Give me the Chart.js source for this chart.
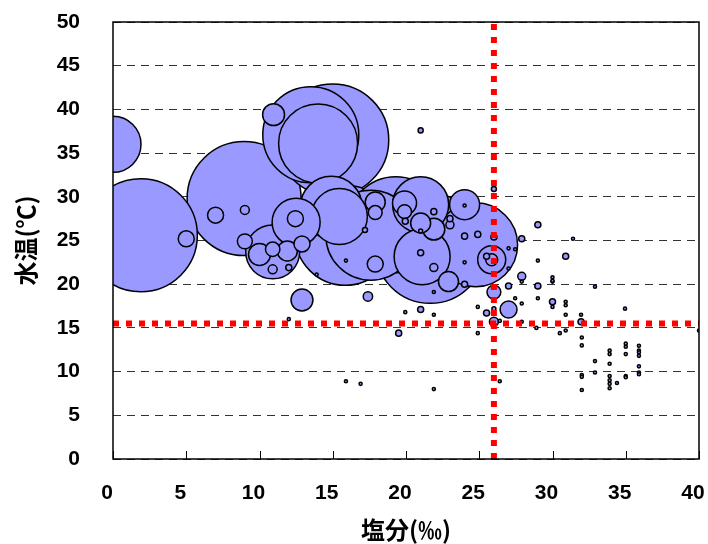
<!DOCTYPE html>
<html>
<head>
<meta charset="utf-8">
<script src="https://cdn.jsdelivr.net/npm/chart.js@4.4.0/dist/chart.umd.min.js"></script>
<style>
  body { margin: 0; background: #fff; }
</style>
</head>
<body>
<canvas id="chart" width="708" height="544"></canvas>
<script>
  // salinity (‰), water temperature (℃) and bubble value for each sample
  const salinity = [
    0, 1.9, 8.95, 13.5, 15.0, 14.0, 15.85, 17.6, 19.3, 21.65,
    24.75, 14.9, 21.0, 21.1, 15.45, 10.9, 12.5, 24.0, 25.85, 10.96,
    5.0, 7.0, 9.0, 12.45, 9.0, 10.0, 10.9, 11.9, 12.9, 10.9,
    12.0, 12.9, 17.4, 12.0, 13.9, 15.9, 17.9, 17.2, 17.9, 17.9,
    21.0, 19.9, 19.9, 19.95, 21.0, 21.9, 21.9, 23.0, 23.0, 21.0,
    21.0, 21.9, 22.9, 24.0, 21.9, 24.0, 24.0, 24.9, 24.0, 25.85,
    25.5, 26.0, 27.0, 27.45, 27.0, 26.0, 27.0, 27.0, 26.0, 24.9,
    21.0, 19.95, 21.9, 26.0, 25.5, 26.0, 26.4, 27.45, 27.9, 27.9,
    29.0, 28.9, 30.5, 30.9, 30.9, 31.95, 31.95, 32.0, 32.0, 32.0,
    32.0, 32.0, 26.4, 21.9, 19.5, 24.9, 30.0, 29.0, 31.4, 27.9,
    29.0, 30.9, 27.9, 27.9, 29.0, 30.0, 30.0, 30.0, 30.9, 30.9,
    32.9, 30.0, 34.95, 40.0, 32.9, 32.9, 33.9, 33.9, 33.9, 33.9,
    33.9, 33.9, 33.9, 34.4, 35.0, 35.0, 35.0, 35.0, 35.0, 35.9,
    35.9, 35.9, 35.9, 35.9, 35.9, 35.9, 15.9, 16.9
  ];
  const waterTemp = [
    36.0, 25.6, 29.8, 37.1, 36.5, 36.1, 25.6, 25.6, 26.8, 24.1,
    24.5, 28.8, 29.1, 23.15, 27.75, 23.7, 27.1, 29.1, 22.8, 39.4,
    25.2, 27.9, 28.5, 27.5, 24.9, 23.4, 24.0, 23.8, 24.6, 21.7,
    21.9, 18.2, 18.6, 16.0, 21.1, 22.7, 22.3, 26.2, 29.4, 28.2,
    37.6, 29.3, 28.3, 27.2, 27.0, 26.3, 28.3, 26.8, 27.5, 26.1,
    23.6, 21.9, 20.3, 20.0, 19.1, 22.5, 25.5, 25.7, 29.0, 22.8,
    23.2, 25.4, 24.1, 24.0, 21.8, 19.1, 19.8, 17.1, 30.9, 17.4,
    17.1, 16.8, 16.5, 17.2, 16.7, 15.7, 15.8, 18.4, 17.8, 15.7,
    18.4, 15.0, 14.4, 16.5, 14.7, 16.5, 15.7, 13.9, 13.0, 9.6,
    9.4, 7.9, 8.9, 8.0, 14.4, 14.4, 20.3, 26.8, 25.2, 25.2,
    22.7, 23.2, 20.9, 20.3, 19.8, 20.8, 20.4, 18.0, 18.0, 17.6,
    19.7, 17.4, 17.2, 14.7, 11.2, 9.9, 12.4, 12.0, 10.9, 9.5,
    9.0, 8.6, 8.1, 8.7, 13.2, 12.85, 12.0, 9.5, 9.35, 12.96,
    12.4, 12.2, 11.8, 10.6, 9.9, 9.7, 8.9, 8.6
  ];
  const bubbleValue = [
    196, 798, 812, 576, 784, 390, 625, 506, 576, 756,
    441, 240, 196, 196, 196, 182, 144, 56, 49, 30,
    16, 16, 5, 16, 14, 30, 13, 25, 16, 5,
    2.3, 30, 5.5, 0.6, 0.6, 0.6, 16, 1.6, 25, 12,
    1.6, 36, 12, 2.3, 25, 30, 2.3, 4, 2.3, 1,
    2.3, 4, 25, 2.3, 0.6, 0.6, 2.3, 2.3, 0.6, 9,
    2.3, 2.3, 0.6, 0.6, 0.6, 12, 2.3, 18, 1.6, 0.6,
    2.3, 0.6, 0.6, 1, 2.3, 5, 0.6, 0.6, 0.6, 0.6,
    0.6, 0.6, 0.6, 0.6, 0.6, 0.6, 2.3, 0.6, 0.6, 0.6,
    0.6, 0.6, 0.6, 0.6, 2.3, 0.6, 0.6, 2.3, 0.6, 2.3,
    0.6, 2.3, 4, 0.6, 2.3, 0.6, 0.6, 2.3, 0.6, 0.6,
    0.6, 0.6, 0.6, 0.6, 0.6, 0.6, 0.6, 0.6, 0.6, 0.6,
    0.6, 0.6, 0.6, 0.6, 0.6, 0.6, 0.6, 0.6, 0.6, 0.6,
    0.6, 0.6, 0.6, 0.6, 0.6, 0.6, 0.6, 0.6
  ];

  // reference lines
  const refSalinity = 26;
  const refTemp = 15.5;

  const xRange = [0, 40];
  const yRange = [0, 50];

  // big bubbles first so the small ones stay visible on top
  const bubbles = salinity.map((s, i) => ({
    x: s, y: waterTemp[i], r: 2 * Math.sqrt(bubbleValue[i])
  })).sort((a, b) => b.r - a.r);

  const labelFont = { family: "'Liberation Sans', sans-serif", size: 21, weight: 'bold' };
  const titleFont = { family: "'Noto Sans CJK JP', sans-serif", size: 24, weight: 'bold' };

  const frame = {
    id: 'frame',
    afterDatasetsDraw(chart) {
      const { ctx, chartArea: a, scales: { x } } = chart;
      ctx.save();
      ctx.setLineDash([]);
      ctx.strokeStyle = '#000';
      ctx.lineWidth = 1.5;
      ctx.strokeRect(a.left, a.top, a.right - a.left, a.bottom - a.top);
      ctx.beginPath();
      x.ticks.forEach(t => {
        const px = Math.round(x.getPixelForValue(t.value)) + 0.5;
        ctx.moveTo(px, a.bottom);
        ctx.lineTo(px, a.bottom - 8);
      });
      ctx.lineWidth = 1;
      ctx.stroke();
      ctx.restore();
    }
  };

  new Chart(document.getElementById('chart'), {
    type: 'bubble',
    data: {
      datasets: [
        {
          type: 'line',
          data: [{ x: refSalinity, y: yRange[0] }, { x: refSalinity, y: yRange[1] }],
          borderColor: '#ff0000',
          borderWidth: 6,
          borderDash: [6, 7],
          pointRadius: 0,
          clip: 0,
          order: 0
        },
        {
          type: 'line',
          data: [{ x: xRange[0], y: refTemp }, { x: xRange[1], y: refTemp }],
          borderColor: '#ff0000',
          borderWidth: 6,
          borderDash: [6, 7],
          pointRadius: 0,
          clip: 0,
          order: 0
        },
        {
          data: bubbles,
          backgroundColor: '#9999ff',
          borderColor: '#000',
          borderWidth: 1.5,
          hoverBorderWidth: 1.5,
          clip: 0,
          order: 1
        }
      ]
    },
    options: {
      responsive: false,
      animation: false,
      events: [],
      layout: { autoPadding: false, padding: { top: 22, right: 9, left: 0, bottom: 0 } },
      plugins: { legend: { display: false }, tooltip: { enabled: false } },
      scales: {
        x: {
          type: 'linear',
          min: xRange[0], max: xRange[1],
          afterFit: s => { s.height = 85; s.paddingLeft = 0; s.paddingRight = 0; },
          ticks: { stepSize: 5, color: '#000', font: labelFont, padding: 22, labelOffset: -6 },
          grid: { display: false, drawTicks: false },
          border: { display: false },
          title: { display: true, text: '塩分(‰)', color: '#000', font: titleFont, padding: { top: 0, bottom: 0 } }
        },
        y: {
          min: yRange[0], max: yRange[1],
          afterFit: s => { s.width = 113; s.paddingTop = 0; s.paddingBottom = 0; },
          ticks: { stepSize: 5, color: '#000', font: labelFont, padding: 33 },
          grid: { color: '#333', lineWidth: 1, drawTicks: false },
          border: { display: false, dash: [8, 6] },
          title: { display: true, text: '水温(℃)', color: '#000', font: titleFont, padding: { top: 11, bottom: 0 } }
        }
      }
    },
    plugins: [frame]
  });
</script>
</body>
</html>
